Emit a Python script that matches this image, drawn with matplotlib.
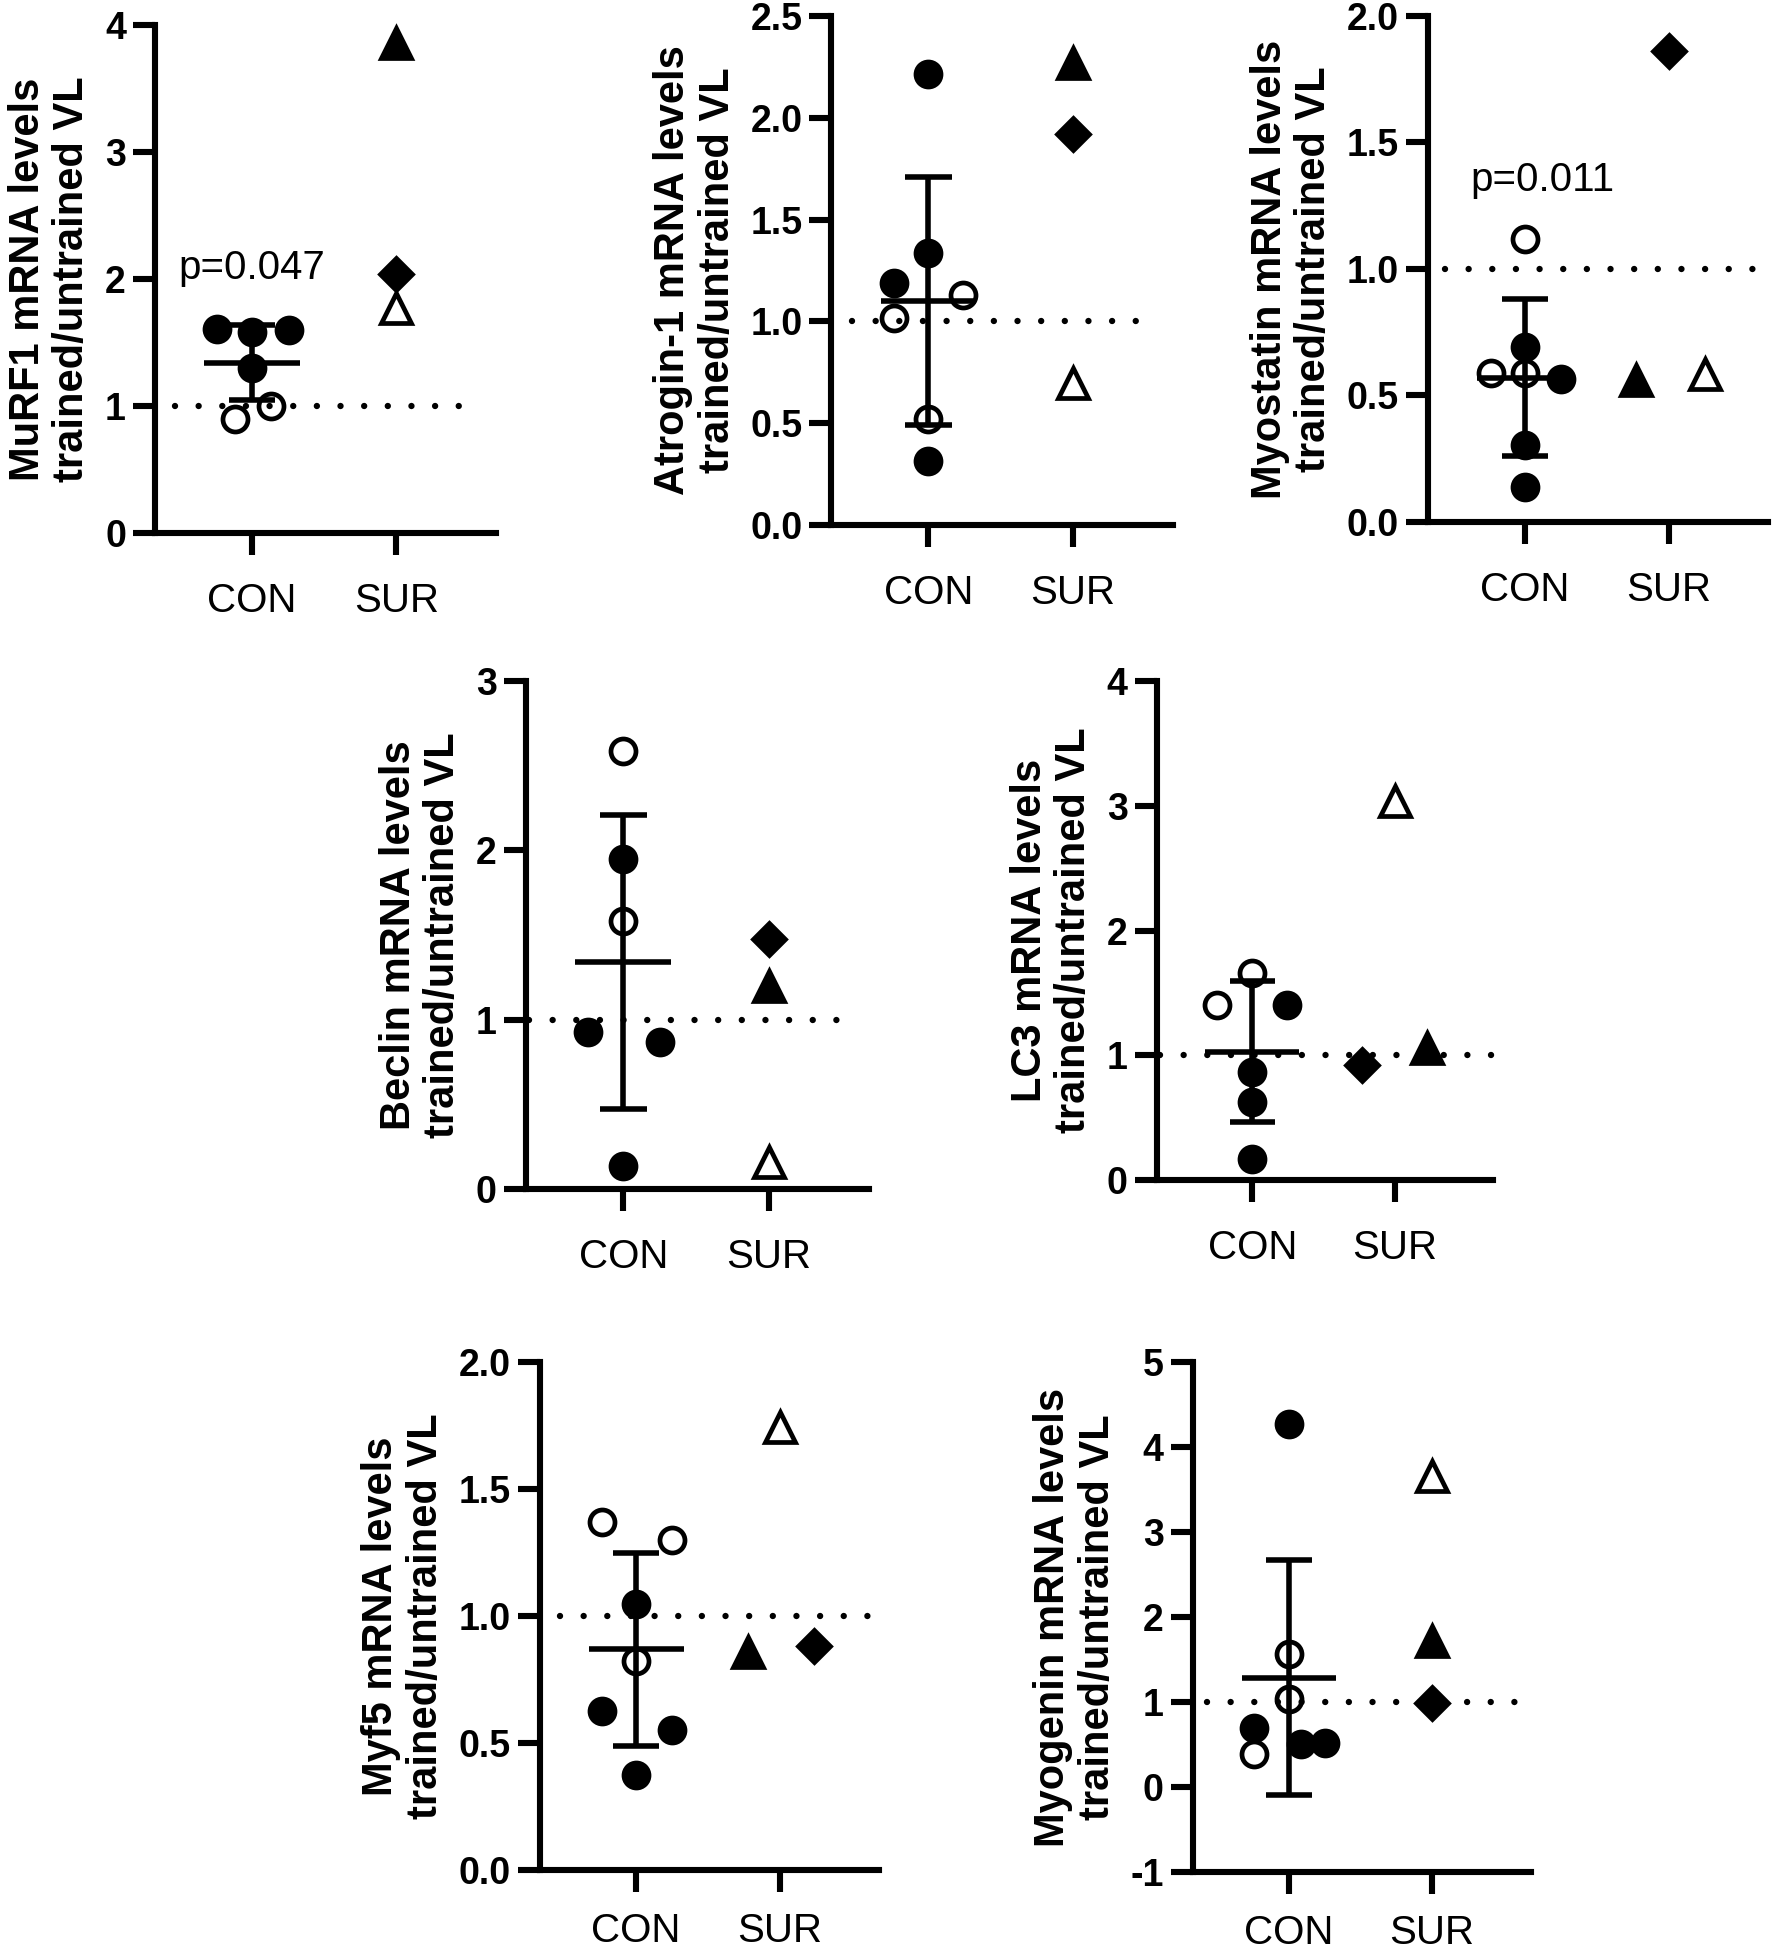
import matplotlib.pyplot as plt

plt.rcParams['font.family'] = ['Liberation Sans', 'DejaVu Sans']

groups = ['CON', 'SUR']

# ---- values ----
# CON: y values, horizontal jitter, open (True) / filled (False) circle
murf1_con = [1.61, 1.58, 1.60, 1.30, 0.90, 1.00]
murf1_con_dx = [-0.24, 0.0, 0.26, 0.0, -0.12, 0.13]
murf1_con_open = [False, False, False, False, True, True]
# SUR: filled triangle, filled diamond, open triangle
murf1_sur = [3.86, 2.04, 1.77]
murf1_sur_dx = [0.0, 0.0, 0.0]
murf1_mean, murf1_sd = 1.34, 0.295

atrogin_con = [2.215, 1.335, 1.19, 1.13, 1.015, 0.52, 0.317]
atrogin_con_dx = [0.0, 0.0, -0.24, 0.24, -0.24, 0.0, 0.0]
atrogin_con_open = [False, False, False, True, True, True, False]
atrogin_sur = [2.27, 1.92, 0.70]
atrogin_sur_dx = [0.0, 0.0, 0.0]
atrogin_mean, atrogin_sd = 1.10, 0.61

myostatin_con = [1.12, 0.69, 0.59, 0.59, 0.565, 0.306, 0.137]
myostatin_con_dx = [0.0, 0.0, -0.23, 0.0, 0.25, 0.0, 0.0]
myostatin_con_open = [True, False, True, True, False, False, False]
myostatin_sur = [0.56, 1.86, 0.584]
myostatin_sur_dx = [-0.23, 0.0, 0.25]
myostatin_mean, myostatin_sd = 0.57, 0.31

beclin_con = [2.585, 1.947, 1.583, 0.928, 0.867, 0.133]
beclin_con_dx = [0.0, 0.0, 0.0, -0.24, 0.255, 0.0]
beclin_con_open = [True, False, True, False, False, False]
beclin_sur = [1.20, 1.475, 0.157]
beclin_sur_dx = [0.0, 0.0, 0.0]
beclin_mean, beclin_sd = 1.34, 0.87

lc3_con = [1.66, 1.40, 1.40, 0.864, 0.628, 0.17]
lc3_con_dx = [0.0, -0.25, 0.245, 0.0, 0.0, 0.0]
lc3_con_open = [True, True, False, False, False, False]
lc3_sur = [1.06, 0.923, 3.04]
lc3_sur_dx = [0.23, -0.23, 0.0]
lc3_mean, lc3_sd = 1.03, 0.565

myf5_con = [1.372, 1.30, 1.046, 0.824, 0.625, 0.553, 0.374]
myf5_con_dx = [-0.24, 0.25, 0.0, 0.0, -0.24, 0.25, 0.0]
myf5_con_open = [True, True, False, True, False, False, False]
myf5_sur = [0.858, 0.882, 1.744]
myf5_sur_dx = [-0.22, 0.235, 0.0]
myf5_mean, myf5_sd = 0.87, 0.38

myogenin_con = [4.27, 1.565, 1.033, 0.69, 0.39, 0.51, 0.52]
myogenin_con_dx = [0.0, 0.0, 0.0, -0.24, -0.24, 0.086, 0.25]
myogenin_con_open = [False, True, True, False, True, False, False]
myogenin_sur = [1.713, 0.986, 3.655]
myogenin_sur_dx = [0.0, 0.0, 0.0]
myogenin_mean, myogenin_sd = 1.285, 1.38

LW = 4.4


def draw_panel(ax, gene, con, con_dx, con_open, sur, sur_dx, mean, sd,
               ticks, ticklabels, ref_span, ptext=None, xpad=19):
    # reference line at 1
    ax.plot(ref_span, [1, 1], color='black', lw=4.6, dashes=(0.001, 3.7),
            dash_capstyle='round', zorder=1, clip_on=False)

    # mean +/- SD
    ax.vlines(0, mean - sd, mean + sd, color='black', lw=4.0, zorder=2)
    ax.hlines([mean - sd, mean + sd], -0.16, 0.16, color='black', lw=4.0, zorder=2)
    ax.hlines(mean, -0.33, 0.33, color='black', lw=4.0, zorder=2)

    for y, dx, op in zip(con, con_dx, con_open):
        ax.plot(0 + dx, y, 'o', ms=18, mew=3.4, mec='black',
                mfc='none' if op else 'black', zorder=3, clip_on=False)

    sur_style = [('^', 21.5, 'black'), ('D', 16, 'black'), ('^', 21.5, 'none')]
    for y, dx, (mk, ms, fc) in zip(sur, sur_dx, sur_style):
        ax.plot(1 + dx, y, mk, ms=ms, mew=3.4, mec='black', mfc=fc,
                zorder=3, clip_on=False)

    if ptext is not None:
        ax.text(ptext[0], ptext[1], ptext[2], ha='center', va='center',
                fontsize=29)

    ax.set_xlim(-0.67, 1.69)
    ax.set_ylim(ticks[0], ticks[-1])
    ax.set_yticks(ticks)
    ax.set_yticklabels(ticklabels, fontsize=27, fontweight='bold')
    ax.set_xticks([0, 1])
    ax.set_xticklabels(groups, fontsize=29)
    ax.tick_params(axis='y', length=16, width=LW, pad=5)
    ax.tick_params(axis='x', length=16, width=LW, pad=xpad)
    for side in ['top', 'right']:
        ax.spines[side].set_visible(False)
    for side in ['left', 'bottom']:
        ax.spines[side].set_linewidth(LW)
    ax.set_ylabel(gene + ' mRNA levels\ntrained/untrained VL', fontsize=30,
                  fontweight='bold', labelpad=9, linespacing=1.15)


fig = plt.figure(figsize=(17.72, 19.52), dpi=100)

ax = fig.add_axes([0.0875, 0.7269, 0.1924, 0.2602])
draw_panel(ax, 'MuRF1', murf1_con, murf1_con_dx, murf1_con_open,
           murf1_sur, murf1_sur_dx, murf1_mean, murf1_sd,
           [0, 1, 2, 3, 4], ['0', '1', '2', '3', '4'], [-0.53, 1.53],
           ptext=(0, 2.09, 'p=0.047'))

ax = fig.add_axes([0.4692, 0.7310, 0.1927, 0.2608])
draw_panel(ax, 'Atrogin-1', atrogin_con, atrogin_con_dx, atrogin_con_open,
           atrogin_sur, atrogin_sur_dx, atrogin_mean, atrogin_sd,
           [0, 0.5, 1.0, 1.5, 2.0, 2.5], ['0.0', '0.5', '1.0', '1.5', '2.0', '2.5'],
           [-0.53, 1.52])

ax = fig.add_axes([0.8059, 0.7326, 0.1919, 0.2592])
draw_panel(ax, 'Myostatin', myostatin_con, myostatin_con_dx, myostatin_con_open,
           myostatin_sur, myostatin_sur_dx, myostatin_mean, myostatin_sd,
           [0, 0.5, 1.0, 1.5, 2.0], ['0.0', '0.5', '1.0', '1.5', '2.0'],
           [-0.55, 1.69], ptext=(0.125, 1.35, 'p=0.011'))

ax = fig.add_axes([0.2968, 0.3909, 0.1936, 0.2602])
draw_panel(ax, 'Beclin', beclin_con, beclin_con_dx, beclin_con_open,
           beclin_sur, beclin_sur_dx, beclin_mean, beclin_sd,
           [0, 1, 2, 3], ['0', '1', '2', '3'], [-0.65, 1.58])

ax = fig.add_axes([0.6529, 0.3955, 0.1896, 0.2556])
draw_panel(ax, 'LC3', lc3_con, lc3_con_dx, lc3_con_open,
           lc3_sur, lc3_sur_dx, lc3_mean, lc3_sd,
           [0, 1, 2, 3, 4], ['0', '1', '2', '3', '4'], [-0.65, 1.69])

ax = fig.add_axes([0.3047, 0.0420, 0.1913, 0.2602])
draw_panel(ax, 'Myf5', myf5_con, myf5_con_dx, myf5_con_open,
           myf5_sur, myf5_sur_dx, myf5_mean, myf5_sd,
           [0, 0.5, 1.0, 1.5, 2.0], ['0.0', '0.5', '1.0', '1.5', '2.0'],
           [-0.53, 1.68], xpad=14)

ax = fig.add_axes([0.6732, 0.0410, 0.1907, 0.2613])
draw_panel(ax, 'Myogenin', myogenin_con, myogenin_con_dx, myogenin_con_open,
           myogenin_sur, myogenin_sur_dx, myogenin_mean, myogenin_sd,
           [-1, 0, 1, 2, 3, 4, 5], ['-1', '0', '1', '2', '3', '4', '5'],
           [-0.57, 1.68], xpad=14)

fig.savefig('out.png', dpi=100)
